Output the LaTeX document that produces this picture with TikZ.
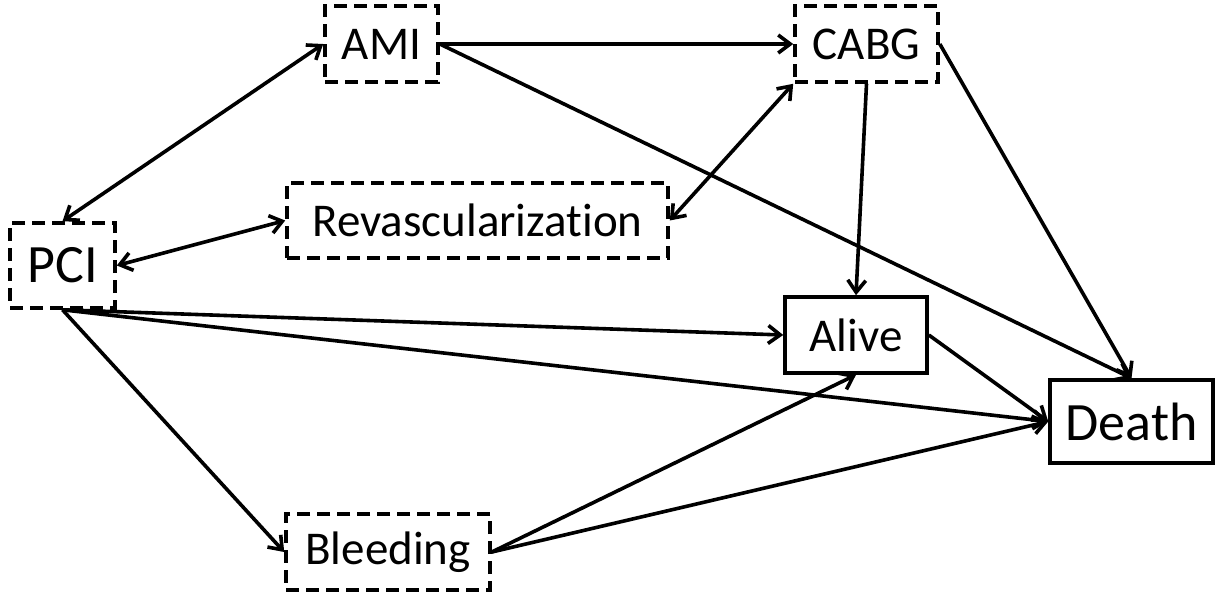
\documentclass[tikz,border=0pt]{standalone}
\usepackage{fontspec}
\setmainfont{Carlito}[Ligatures=NoCommon]
\usetikzlibrary{arrows.meta}
\begin{document}
\begin{tikzpicture}[x=0.5pt,y=-0.5pt,
        box/.style={draw,line width=1.8pt,inner sep=0pt,font=\fontsize{23.5}{28}\selectfont},
        dbox/.style={box,dash pattern=on 6.5pt off 3.5pt},
        big/.style={font=\fontsize{27}{32}\selectfont},
        arr/.style={line width=1.8pt,-{Straight Barb[length=6pt,width=9pt]}},
        darr/.style={line width=1.8pt,{Straight Barb[length=6pt,width=9pt]}-{Straight Barb[length=6pt,width=9pt]}}]
        \useasboundingbox (0,0) rectangle (1219,594);
        \node[dbox,minimum width=56.5pt,minimum height=38pt] (ami) at (381.5,44) {AMI};
        \node[dbox,minimum width=71.5pt,minimum height=38pt] (cabg) at (866.5,44) {CABG};
        \node[dbox,minimum width=190.5pt,minimum height=37.5pt] (revasc) at (477.5,220.5) {Revascularization};
        \node[dbox,big,minimum width=52.5pt,minimum height=42.5pt] (pci) at (62.5,265.5) {PCI};
        \node[box,minimum width=71pt,minimum height=38pt] (alive) at (856,335) {Alive};
        \node[box,big,minimum width=81.5pt,minimum height=41.5pt] (death) at (1131.5,421.5) {Death};
        \node[dbox,minimum width=102pt,minimum height=38pt] (bleed) at (388,552) {Bleeding};
        \draw[darr] (pci.north) -- (ami.west);
        \draw[darr] (pci.east) -- (revasc.west);
        \draw[darr] (revasc.east) -- (cabg.south west);
        \draw[arr] (ami.east) -- (cabg.west);
        \draw[arr] (ami.east) -- (death.north);
        \draw[arr] (cabg.south) -- (alive.north);
        \draw[arr] (cabg.east) -- (death.north);
        \draw[arr] (pci.south) -- (alive.west);
        \draw[arr] (pci.south) -- (death.west);
        \draw[arr] (pci.south) -- (bleed.west);
        \draw[arr] (alive.east) -- (death.west);
        \draw[arr] (bleed.east) -- (alive.south);
        \draw[arr] (bleed.east) -- (death.west);
    \end{tikzpicture}
\end{document}
